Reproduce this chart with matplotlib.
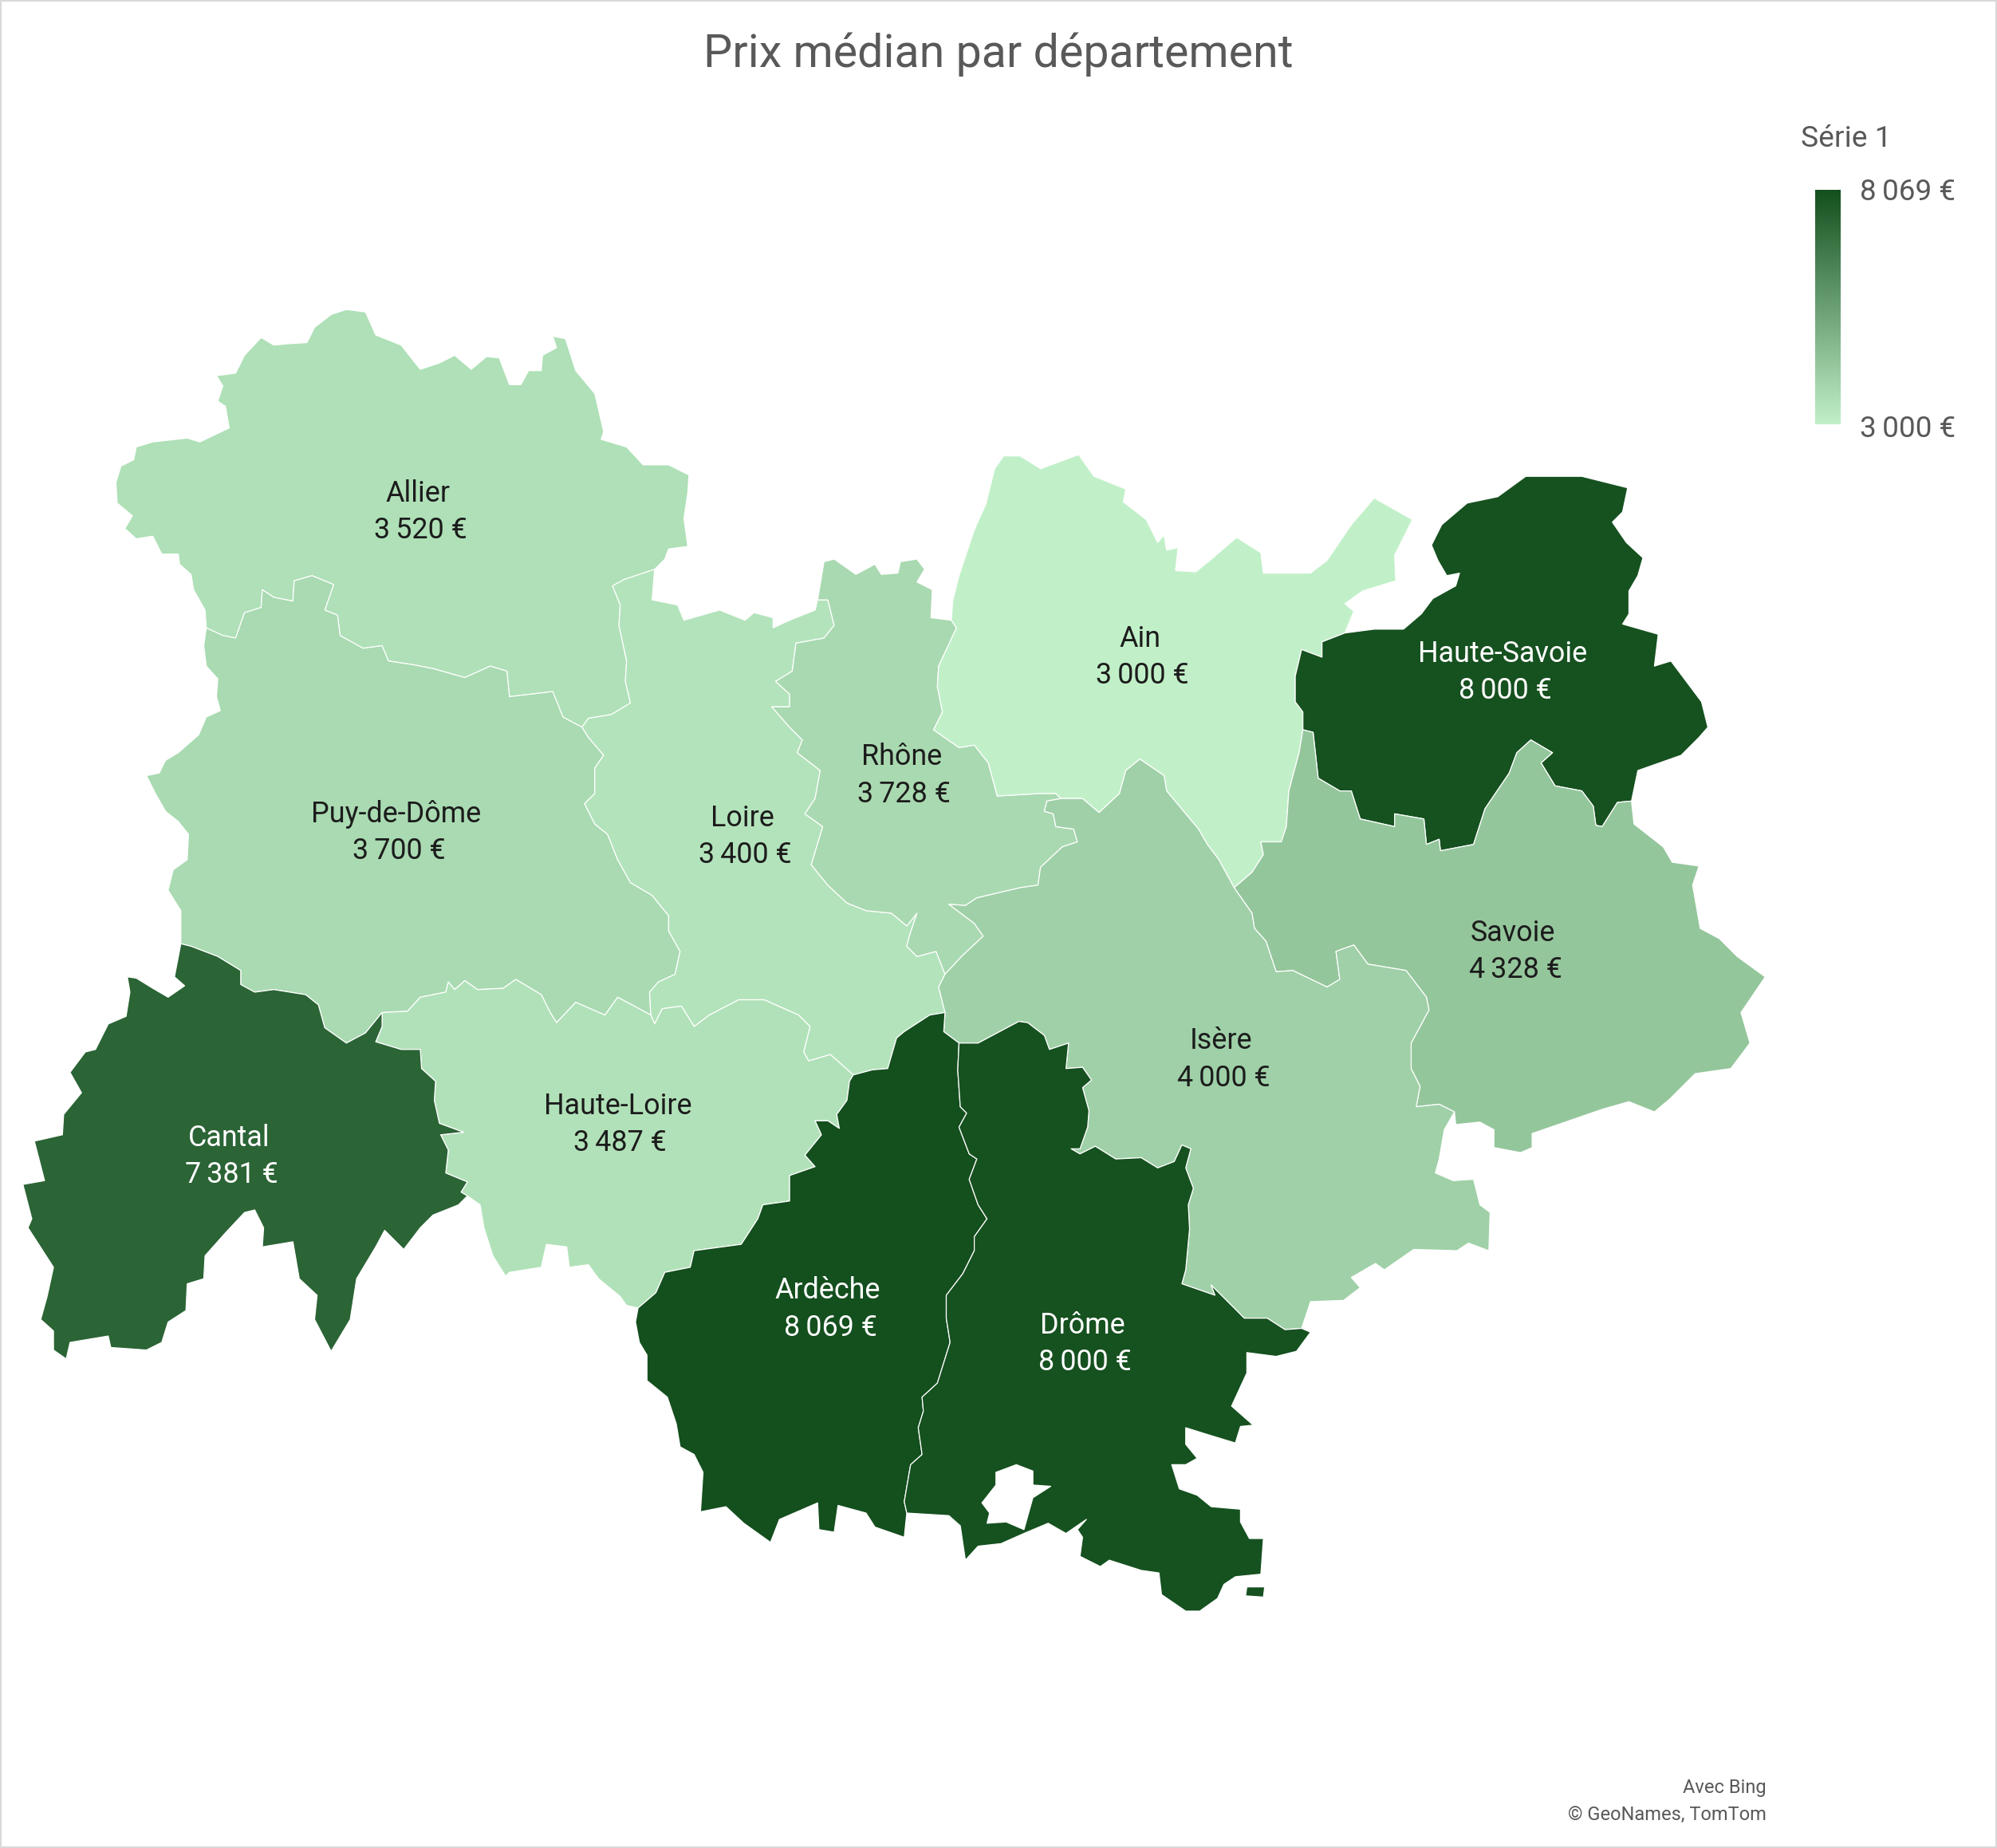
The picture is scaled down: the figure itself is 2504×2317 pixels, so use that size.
#!/usr/bin/env python3
import matplotlib
matplotlib.use('Agg')
import matplotlib.pyplot as plt
from matplotlib.colors import LinearSegmentedColormap, Normalize
from matplotlib.patches import PathPatch
from matplotlib.path import Path
import numpy as np

FONT = ['Roboto', 'DejaVu Sans']

departements = ['Allier', 'Puy-de-Dôme', 'Loire', 'Rhône', 'Ain', 'Haute-Savoie',
                'Savoie', 'Isère', 'Haute-Loire', 'Cantal', 'Ardèche', 'Drôme']
prix = [3520, 3700, 3400, 3728, 3000, 8000, 4328, 4000, 3487, 7381, 8069, 8000]

# département outlines, one list per stretch of border
allier_outer = [(162,493),(161,479),(152,463),(150,451),(141,443),(140,435),(127,435),(120,421),(107,423),(98,415),(104,405),(92,395),(91,379),(95,366),(105,361),(107,351),(120,347),(147,344),(157,347),(180,336),(177,319),(171,315),(175,303),(170,295),(185,293),(192,279),(205,265),(215,271),(225,270),(241,269),(247,257),(260,247),(272,243),(287,245),(295,263),(315,271),(330,290),(345,285),(357,279),(370,290),(382,280),(392,281),(400,302),(409,302),(415,291),(425,291),(426,279),(437,273),(434,264),(444,266),(452,291),(467,309),(474,339),(472,345),(492,351),(505,365),(525,365),(541,373),(540,387),(537,407),(540,429),(525,431),(522,439),(514,447)]
allier_loire = [(514,447),(490,455),(481,460),(487,475),(486,491),(492,519),(491,535),(495,552),(480,561),(462,564),(457,571)]
allier_puy = [(457,571),(442,563),(434,543),(400,547),(398,527),(385,523),(365,532),(340,525),(325,522),(305,519),(300,507),(285,509),(267,499),(265,483),(255,479),(262,459),(245,452),(231,456),(230,472),(215,469),(206,463),(205,477),(192,481),(185,501),(175,499),(162,493)]
puy_outer = [(162,493),(160,507),(162,523),(171,533),(170,547),(173,558),(162,563),(156,577),(140,591),(130,597),(125,607),(115,609),(122,623),(130,637),(140,645),(148,655),(147,675),(136,683),(132,699),(142,715),(142,741)]
puy_cantal = [(142,741),(150,743),(171,751),(189,762),(189,773),(200,779),(215,777),(240,781),(250,789),(255,807),(272,819),(287,811),(300,795)]
puy_hloire = [(300,795),(320,794),(330,783),(350,779),(352,771),(357,777),(365,770),(375,777),(395,776),(405,769),(425,781),(432,795),(437,803),(452,787),(475,797),(485,783),(500,791),(511,797)]
puy_loire = [(511,797),(510,779),(517,771),(530,765),(534,747),(525,731),(525,719),(512,703),(495,693),(485,675),(477,655),(467,647),(459,631),(467,623),(467,603),(474,593),(462,579),(457,571)]
loire_outer = [(514,447),(512,471),(532,475),(537,487),(565,479),(585,487),(592,481),(607,485),(607,493),(620,487),(640,479),(642,471)]
loire_rhone = [(642,471),(650,471),(652,479),(655,491),(647,501),(625,505),(622,527),(609,535),(620,545),(620,555),(606,555),(620,571),(630,581),(626,591),(644,605),(640,627),(632,639),(646,649),(637,679),(650,695),(665,709),(680,715),(700,717),(712,727),(720,717),(714,735),(712,743),(720,751),(735,747),(742,765)]
loire_isere = [(742,765),(737,775),(742,795)]
loire_ardeche = [(742,795),(730,797),(710,810),(704,815),(697,839),(685,840),(670,844)]
loire_hloire = [(670,844),(652,828),(635,833),(631,826),(636,806),(627,797),(600,785),(580,785),(557,797),(545,806),(535,790),(520,792),(514,804),(511,797)]
hloire_ardeche = [(670,844),(667,849),(665,864),(657,875),(659,886),(650,880),(640,880),(645,891),(632,907),(640,916),(620,923),(620,943),(599,946),(595,957),(582,977),(545,982),(542,995),(522,999),(515,1015),(501,1027)]
hloire_outer = [(501,1027),(492,1025),(487,1018),(470,1004),(462,993),(447,995),(445,979),(429,977),(425,995),(400,999),(397,1002),(387,986),(380,964),(377,946),(367,939)]
hloire_cantal = [(367,939),(362,936),(367,928),(350,921),(352,903),(346,891),(364,889),(345,882),(341,864),(342,849),(331,839),(330,824),(315,824),(295,818),(300,806),(300,795)]
cantal_outer = [(142,741),(137,767),(145,774),(132,783),(120,776),(107,768),(100,767),(102,779),(99,798),(85,804),(75,824),(67,826),(55,842),(64,858),(50,875),(49,891),(27,896),(35,927),(18,930),(25,957),(22,964),(42,995),(37,1018),(32,1036),(42,1045),(42,1060),(52,1067),(55,1054),(85,1049),(87,1058),(115,1060),(127,1054),(132,1038),(146,1029),(147,1008),(160,1004),(161,986),(177,968),(192,952),(200,950),(207,964),(206,979),(230,975),(235,1004),(249,1017),(247,1036),(260,1061),(275,1036),(280,1004),(295,979),(302,966),(317,981),(330,964),(340,954),(360,946),(367,939)]
ardeche_isere = [(742,795),(741,810),(753,819)]
ardeche_drome = [(753,819),(752,840),(754,869),(759,874),(753,885),(761,906),(767,910),(761,926),(768,946),(775,957),(765,971),(765,982),(756,1000),(743,1017),(743,1035),(746,1054),(736,1086),(724,1097),(725,1108),(721,1121),(724,1142),(715,1150),(710,1179),(712,1188)]
ardeche_outer = [(501,1027),(499,1038),(502,1054),(508,1064),(508,1084),(524,1097),(531,1118),(534,1136),(545,1142),(552,1156),(550,1187),(570,1183),(584,1196),(605,1211),(612,1193),(642,1180),(643,1201),(655,1203),(658,1182),(680,1188),(687,1199),(710,1207),(712,1188)]
drome_isere = [(753,819),(768,819),(800,802),(807,803),(820,813),(824,824),(839,819),(837,839),(850,838),(857,848),(850,854),(855,872),(854,885),(848,902),(841,902),(848,906),(860,900),(876,910),(896,909),(909,917),(922,912),(928,899),(935,902),(931,917),(937,933),(933,946),(934,965),(931,997),(928,1008),(954,1017),(951,1009),(963,1021),(977,1035),(995,1035),(1009,1044),(1022,1043)]
drome_outer = [(1022,1043),(1029,1046),(1018,1061),(1002,1065),(979,1062),(979,1078),(967,1104),(984,1119),(974,1120),(970,1133),(947,1126),(931,1121),(931,1134),(940,1145),(931,1150),(920,1150),(926,1169),(940,1174),(951,1183),(974,1185),(974,1195),(981,1208),(992,1208),(990,1236),(970,1238),(961,1244),(956,1255),(942,1265),(931,1265),(912,1252),(910,1235),(896,1233),(871,1225),(864,1230),(848,1222),(850,1207),(846,1201),(853,1193),(837,1204),(823,1196),(804,1204),(786,1212),(768,1214),(758,1225),(754,1198),(745,1190),(712,1188)]
drome_hole = [(782,1156),(782,1166),(771,1180),(777,1188),(775,1196),(790,1195),(804,1201),(811,1176),(825,1167),(811,1166),(811,1155),(798,1150)]
drome_islet = [(979,1246),(993,1246),(992,1254),(978,1253)]
isere_rhone = [(742,765),(755,751),(772,735),(765,725),(745,710),(758,711),(767,705),(801,697),(815,695),(817,681),(834,665),(846,661),(843,651),(829,649),(827,639),(820,637),(822,629),(833,627)]
isere_ain = [(833,627),(850,627),(863,638),(879,623),(884,605),(895,596),(914,609),(916,621),(941,651),(948,663),(957,675),(969,697)]
isere_savoie = [(969,697),(983,717),(985,729),(994,739),(1002,763),(1015,762),(1042,775),(1052,769),(1049,747),(1063,742),(1074,757),(1104,762),(1120,783),(1122,793),(1108,819),(1108,839),(1115,853),(1112,869),(1130,867),(1142,873)]
isere_outer = [(1142,873),(1134,887),(1130,910),(1127,921),(1141,927),(1157,926),(1162,946),(1170,952),(1169,982),(1153,976),(1144,982),(1110,981),(1087,997),(1080,992),(1061,1003),(1068,1011),(1055,1021),(1029,1022),(1022,1043)]
rhone_outer = [(642,471),(647,441),(655,439),(672,451),(687,443),(692,451),(705,450),(707,441),(720,439),(726,447),(720,457),(732,463),(731,485),(747,487)]
rhone_ain = [(747,487),(751,493),(737,523),(736,539),(740,559),(733,573),(753,587),(765,585),(776,599),(783,625),(817,623),(829,623),(833,627)]
ain_outer = [(747,487),(748,472),(753,452),(765,416),(774,396),(781,368),(788,358),(801,358),(817,368),(847,357),(859,374),(884,384),(882,394),(900,408),(909,426),(914,420),(916,432),(925,430),(923,448),(939,449),(950,440),(971,422),(990,434),(992,450),(1029,450),(1042,440),(1061,412),(1079,391),(1109,408),(1095,436),(1096,456),(1070,464),(1056,474),(1063,480),(1056,497)]
ain_hsavoie = [(1056,497),(1038,504),(1038,516),(1022,510),(1017,531),(1017,551),(1023,559),(1023,573)]
ain_savoie = [(1023,573),(1020,591),(1012,621),(1010,649),(1006,661),(990,661),(992,671),(983,685),(969,697)]
hsavoie_outer = [(1056,497),(1079,494),(1102,494),(1116,482),(1125,470),(1143,460),(1146,450),(1136,452),(1129,440),(1124,428),(1132,412),(1152,395),(1176,390),(1198,374),(1242,374),(1278,383),(1274,402),(1266,410),(1277,426),(1290,438),(1286,452),(1279,464),(1279,482),(1274,490),(1302,498),(1299,523),(1312,519),(1336,551),(1341,571),(1334,579),(1320,593),(1286,605),(1281,629)]
hsavoie_savoie = [(1023,573),(1031,575),(1035,611),(1052,621),(1061,621),(1068,643),(1095,649),(1095,639),(1118,643),(1120,663),(1130,659),(1131,668),(1157,663),(1166,635),(1185,607),(1191,591),(1202,581),(1219,591),(1210,599),(1221,617),(1242,621),(1251,633),(1253,648),(1258,649),(1270,630),(1281,629)]
savoie_outer = [(1281,629),(1283,647),(1306,665),(1313,677),(1334,680),(1329,695),(1335,729),(1350,737),(1364,751),(1386,767),(1367,795),(1374,819),(1359,839),(1331,843),(1311,863),(1299,873),(1279,865),(1258,871),(1203,890),(1203,901),(1194,905),(1173,901),(1173,887),(1162,881),(1143,883),(1142,873)]

label_xy = [(328,402), (311,654), (583,657), (708,609), (895,516), (1180,528),
            (1188,747), (959,832), (485,883), (180,908), (650,1028), (850,1055)]


def ring(*chains):
    """ Join border stretches, a stretch is reversed when given as (list,)."""
    pts = []
    for c in chains:
        if isinstance(c, tuple):
            c = c[0][::-1]
        pts += c
    return pts


outlines = {
    'Allier': [ring(allier_outer, allier_loire, allier_puy)],
    'Puy-de-Dôme': [ring((allier_puy,), (puy_loire,), (puy_hloire,), (puy_cantal,), (puy_outer,))],
    'Loire': [ring(loire_outer, loire_rhone, loire_isere, loire_ardeche, loire_hloire, puy_loire, (allier_loire,))],
    'Rhône': [ring(rhone_outer, rhone_ain, (isere_rhone,), (loire_rhone,))],
    'Ain': [ring(ain_outer, ain_hsavoie, ain_savoie, (isere_ain,), (rhone_ain,))],
    'Haute-Savoie': [ring(hsavoie_outer, (hsavoie_savoie,), (ain_hsavoie,))],
    'Savoie': [ring(hsavoie_savoie, savoie_outer, (isere_savoie,), (ain_savoie,))],
    'Isère': [ring(isere_rhone, isere_ain, isere_savoie, isere_outer, (drome_isere,), (ardeche_isere,), (loire_isere,))],
    'Haute-Loire': [ring(puy_hloire, (loire_hloire,), hloire_ardeche, hloire_outer, hloire_cantal)],
    'Cantal': [ring(puy_cantal, (hloire_cantal,), (cantal_outer,))],
    'Ardèche': [ring(ardeche_isere, ardeche_drome, (ardeche_outer,), (hloire_ardeche,), (loire_ardeche,))],
    'Drôme': [ring(drome_isere, drome_outer, (ardeche_drome,)), drome_hole, drome_islet],
}


def make_path(rings):
    verts, codes = [], []
    for r in rings:
        verts += r + [r[0]]
        codes += [Path.MOVETO] + [Path.LINETO] * (len(r) - 1) + [Path.CLOSEPOLY]
    return Path(verts, codes)


def euro(v):
    return f'{v:,}'.replace(',', '\u202f') + ' €'


def main():
    plt.rcParams['font.family'] = FONT
    cmap = LinearSegmentedColormap.from_list('prix', ['#C1F0C8', '#144F1E'])
    norm = Normalize(min(prix), max(prix))

    fig = plt.figure(figsize=(25.04, 23.17), dpi=100)
    ax = fig.add_axes([0, 0, 1, 1])

    for name, value, (x, y) in zip(departements, prix, label_xy):
        ax.add_patch(PathPatch(make_path(outlines[name]), facecolor=cmap(norm(value)),
                               edgecolor='white', linewidth=0.9, joinstyle='round'))
        color = 'white' if value > 6000 else '#1c1c1c'
        ax.text(x, y - 14.5, name, color=color, fontsize=25.8, ha='center', va='center')
        ax.text(x + 2, y + 14.5, euro(value), color=color, fontsize=25.8, ha='center', va='center')

    gradient = np.linspace(1, 0, 256).reshape(-1, 1)
    ax.imshow(gradient, cmap=cmap, aspect='auto', extent=(1425, 1445, 333, 149))
    ax.set_xlim(0, 1568)
    ax.set_ylim(1451, 0)

    ax.text(784, 43, 'Prix médian par département', color='#595959', fontsize=41.3, ha='center', va='center')
    ax.text(1414, 109, 'Série 1', color='#595959', fontsize=26.8, ha='left', va='center')
    ax.text(1460, 151, euro(max(prix)), color='#595959', fontsize=26.6, ha='left', va='center')
    ax.text(1460, 337, euro(min(prix)), color='#595959', fontsize=26.6, ha='left', va='center')
    ax.text(1387, 1404, 'Avec Bing', color='#595959', fontsize=17, ha='right', va='center')
    ax.text(1387, 1425, '© GeoNames, TomTom', color='#595959', fontsize=17, ha='right', va='center')

    ax.set_xticks([])
    ax.set_yticks([])
    for spine in ax.spines.values():
        spine.set_color('#D9D9D9')
        spine.set_linewidth(3)

    fig.savefig('out.png', dpi=100)


if __name__ == '__main__':
    main()
